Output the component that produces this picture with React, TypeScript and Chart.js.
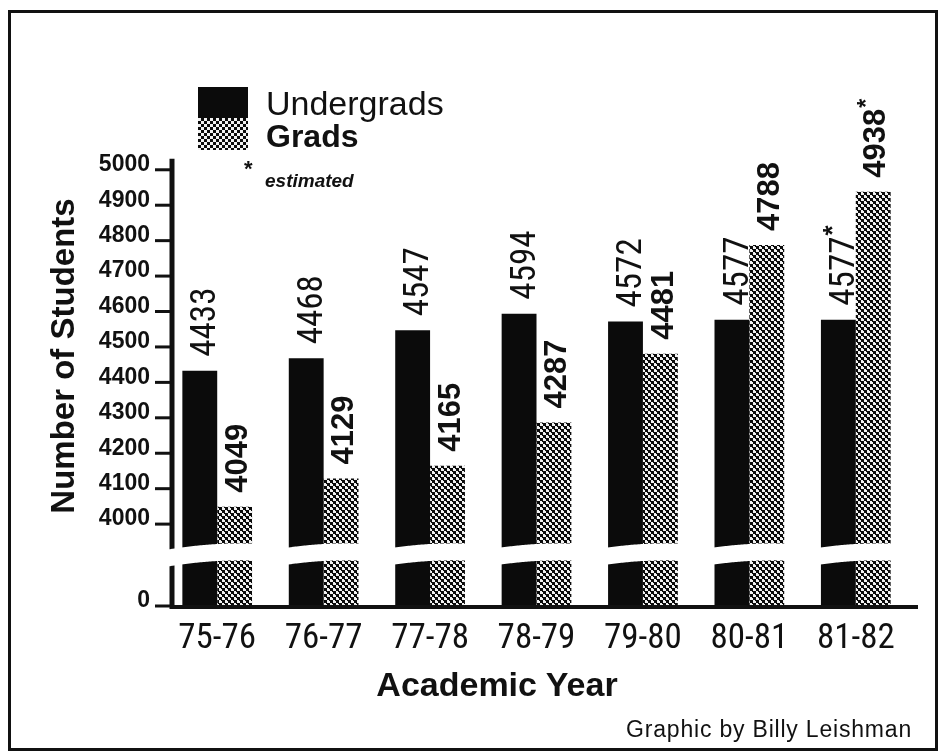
import { useEffect, useRef } from 'react';
import { Chart, registerables, LinearScale } from 'chart.js';

Chart.register(...registerables);

// ---------- data ----------
const categories = ['75-76', '76-77', '77-78', '78-79', '79-80', '80-81', '81-82'];
const undergrads = [4433, 4468, 4547, 4594, 4572, 4577, 4577];
const grads = [4049, 4129, 4165, 4287, 4481, 4788, 4938];
const undergradNotes = ['', '', '', '', '', '', '*'];
const gradNotes = ['', '', '', '', '', '', '*'];
const yTickValues = [0, 4000, 4100, 4200, 4300, 4400, 4500, 4600, 4700, 4800, 4900, 5000];
const yMax = 5180;
const breakValue = 3910;
const lowerShare = 0.1;

const SANS = '"Liberation Sans", Arial, Helvetica, sans-serif';
const NARROW = '"Liberation Sans Narrow", "Roboto Condensed", "DejaVu Sans Condensed", "Liberation Sans", sans-serif';
const INK = '#111';

// ---------- broken (two-segment) linear scale ----------
class BrokenLinearScale extends LinearScale {
  static id = 'brokenLinear';
  static defaults = LinearScale.defaults;
  fracOf(v: number) {
    const max = this.max;
    if (v <= breakValue) return (lowerShare * v) / breakValue;
    return lowerShare + ((1 - lowerShare) * (v - breakValue)) / (max - breakValue);
  }
  getPixelForValue(value: any) {
    if (value === null || value === undefined || isNaN(value)) return NaN;
    return this.getPixelForDecimal(this.fracOf(Number(value)));
  }
  getValueForPixel(pixel: number) {
    const d = this.getDecimalForPixel(pixel);
    if (d <= lowerShare) return (d / lowerShare) * breakValue;
    return breakValue + ((d - lowerShare) / (1 - lowerShare)) * (this.max - breakValue);
  }
}
Chart.register(BrokenLinearScale as any);

function makeHalftone(): CanvasPattern | string {
  const c = document.createElement('canvas');
  c.width = 6;
  c.height = 6;
  const g = c.getContext('2d');
  if (!g) return '#666';
  g.fillStyle = '#f2f2f2';
  g.fillRect(0, 0, 6, 6);
  g.fillStyle = '#0b0b0b';
  g.fillRect(0, 0, 3, 3);
  g.fillRect(3, 3, 3, 3);
  g.fillRect(2, 3, 1, 1);
  g.fillRect(5, 0, 1, 1);
  return g.createPattern(c, 'repeat') || '#666';
}

const brokenAxisPlugin = {
  id: 'brokenAxis',
  afterDatasetsDraw(chart: any) {
    const { ctx, chartArea, scales } = chart;
    const x = scales.x;
    const y = scales.y;
    const axisX = chartArea.left + 8;
    const y0 = y.getPixelForValue(0);
    ctx.save();
    ctx.strokeStyle = INK;
    ctx.lineCap = 'butt';
    // vertical axis
    ctx.lineWidth = 5;
    ctx.beginPath();
    ctx.moveTo(axisX, y.getPixelForValue(yTickValues[yTickValues.length - 1]) - 11);
    ctx.lineTo(axisX, y0 + 3);
    ctx.stroke();
    // tick marks
    ctx.lineWidth = 3;
    yTickValues.forEach((v) => {
      const py = y.getPixelForValue(v);
      ctx.beginPath();
      ctx.moveTo(axisX - 17, py);
      ctx.lineTo(axisX, py);
      ctx.stroke();
    });
    // baseline
    ctx.lineWidth = 4;
    ctx.beginPath();
    ctx.moveTo(axisX - 2, y0 + 1);
    ctx.lineTo(chartArea.right + 9, y0 + 1);
    ctx.stroke();

    // white wavy break band
    const yb = y.getPixelForValue(breakValue);
    const spacing = x.getPixelForValue(1) - x.getPixelForValue(0);
    const wave = (px: number) => {
      const idx = Math.round((px - x.getPixelForValue(0)) / spacing);
      const c = x.getPixelForValue(idx);
      const d = (px - c) / spacing;
      return -3 * Math.cos(Math.PI * d) - 6 * d;
    };
    const x0 = axisX - 6;
    const x1 = chartArea.right + 12;
    ctx.fillStyle = '#fff';
    ctx.beginPath();
    ctx.moveTo(x0, yb - 9 + wave(x0));
    for (let px = x0; px <= x1; px += 1) ctx.lineTo(px, yb - 9 + wave(px));
    for (let px = x1; px >= x0; px -= 1) ctx.lineTo(px, yb + 8 + wave(px));
    ctx.closePath();
    ctx.fill();
    ctx.restore();
  },
};

const labelStyles = [
  { family: NARROW, weight: 'normal', size: 35, dx: 3 },
  { family: SANS, weight: 'bold', size: 31, dx: 1 },
];
const notes = [undergradNotes, gradNotes];

const valueLabelPlugin = {
  id: 'valueLabels',
  afterDatasetsDraw(chart: any) {
    const ctx = chart.ctx;
    chart.data.datasets.forEach((ds: any, di: number) => {
      const meta = chart.getDatasetMeta(di);
      const st = labelStyles[di];
      meta.data.forEach((bar: any, i: number) => {
        const text = String(ds.data[i]);
        const mark = notes[di][i];
        const cap = st.size * 0.72;
        ctx.save();
        ctx.translate(bar.x + st.dx, bar.y - 14);
        ctx.rotate(-Math.PI / 2);
        ctx.fillStyle = INK;
        ctx.textAlign = 'left';
        ctx.textBaseline = 'alphabetic';
        ctx.font = `${st.weight} ${st.size}px ${st.family}`;
        ctx.fillText(text, 0, cap / 2);
        if (mark) {
          const w = ctx.measureText(text).width;
          ctx.font = `bold ${Math.round(st.size * 0.75)}px ${SANS}`;
          ctx.fillText(mark, w + 1, cap / 2 - st.size * 0.38);
        }
        ctx.restore();
      });
    });
  },
};

export default function App() {
  const ref = useRef<HTMLCanvasElement>(null);

  useEffect(() => {
    const canvas = ref.current;
    if (!canvas) return;
    const halftone = makeHalftone();
    const chart = new Chart(canvas, {
      type: 'bar',
      data: {
        labels: categories,
        datasets: [
          {
            label: 'Undergrads',
            data: undergrads,
            backgroundColor: '#0b0b0b',
            borderWidth: 0,
            categoryPercentage: 0.655,
            barPercentage: 1.0,
          },
          {
            label: 'Grads',
            data: grads,
            backgroundColor: halftone as any,
            borderWidth: 0,
            categoryPercentage: 0.655,
            barPercentage: 1.0,
          },
        ],
      },
      options: {
        responsive: false,
        animation: false,
        layout: { padding: { top: 106, right: 37, left: 0, bottom: 0 } },
        plugins: {
          legend: { display: false },
          tooltip: { enabled: false },
        },
        scales: {
          x: {
            afterFit: (s: any) => {
              s.height = 145;
            },
            grid: { display: false, drawTicks: false },
            border: { display: false },
            ticks: {
              padding: 12,
              color: INK,
              maxRotation: 0,
              autoSkip: false,
              font: { family: NARROW, size: 35 },
            },
          },
          y: {
            type: 'brokenLinear' as any,
            min: 0,
            max: yMax,
            afterBuildTicks: (s: any) => {
              s.ticks = yTickValues.map((v) => ({ value: v }));
            },
            afterFit: (s: any) => {
              s.width = 164;
            },
            grid: { display: false, drawTicks: false },
            border: { display: false },
            ticks: {
              padding: 14,
              labelOffset: -5,
              color: INK,
              font: { family: SANS, size: 23, weight: 'bold' },
              callback: (v: any) => String(v),
            },
            title: {
              display: true,
              text: 'Number of Students',
              color: INK,
              font: { family: SANS, size: 33, weight: 'bold' },
              padding: { top: 45, bottom: 0 },
            },
          },
        } as any,
      },
      plugins: [brokenAxisPlugin, valueLabelPlugin],
    });
    return () => chart.destroy();
  }, []);

  const halftoneCss = 'repeating-conic-gradient(#0b0b0b 0% 25%, #f2f2f2 0% 50%) 0 0 / 6px 6px';

  return (
    <div
      style={{
        position: 'fixed',
        left: 0,
        top: 0,
        width: 946,
        height: 751,
        overflow: 'hidden',
        background: '#fff',
      }}
    >
      <canvas ref={ref} width={946} height={751} style={{ position: 'absolute', left: 0, top: 0 }} />
      <div
        style={{
          position: 'absolute',
          left: 8,
          top: 10,
          width: 924,
          height: 735,
          border: '3px solid #111',
          pointerEvents: 'none',
        }}
      />
      {/* legend */}
      <div style={{ position: 'absolute', left: 198, top: 87, width: 50, height: 31, background: '#0b0b0b' }} />
      <div style={{ position: 'absolute', left: 198, top: 118, width: 50, height: 32, background: halftoneCss }} />
      <div
        style={{
          position: 'absolute',
          left: 266,
          top: 86,
          fontFamily: SANS,
          fontSize: 34,
          lineHeight: '34px',
          color: INK,
          whiteSpace: 'nowrap',
        }}
      >
        Undergrads
      </div>
      <div
        style={{
          position: 'absolute',
          left: 266,
          top: 120,
          fontFamily: SANS,
          fontWeight: 'bold',
          fontSize: 32,
          lineHeight: '32px',
          color: INK,
          whiteSpace: 'nowrap',
        }}
      >
        Grads
      </div>
      <div
        style={{
          position: 'absolute',
          left: 244,
          top: 158,
          fontFamily: SANS,
          fontWeight: 'bold',
          fontSize: 22,
          lineHeight: '22px',
          color: INK,
        }}
      >
        *
      </div>
      <div
        style={{
          position: 'absolute',
          left: 265,
          top: 171,
          fontFamily: SANS,
          fontWeight: 'bold',
          fontStyle: 'italic',
          fontSize: 19,
          lineHeight: '19px',
          color: INK,
          whiteSpace: 'nowrap',
        }}
      >
        estimated
      </div>
      {/* x-axis title */}
      <div
        style={{
          position: 'absolute',
          left: 497,
          top: 684,
          transform: 'translate(-50%, -50%)',
          fontFamily: SANS,
          fontWeight: 'bold',
          fontSize: 34,
          lineHeight: '34px',
          color: INK,
          whiteSpace: 'nowrap',
        }}
      >
        Academic Year
      </div>
      {/* credit */}
      <div
        style={{
          position: 'absolute',
          right: 34,
          top: 716,
          fontFamily: SANS,
          fontSize: 23,
          lineHeight: '26px',
          letterSpacing: '0.8px',
          color: INK,
          whiteSpace: 'nowrap',
        }}
      >
        Graphic by Billy Leishman
      </div>
    </div>
  );
}
